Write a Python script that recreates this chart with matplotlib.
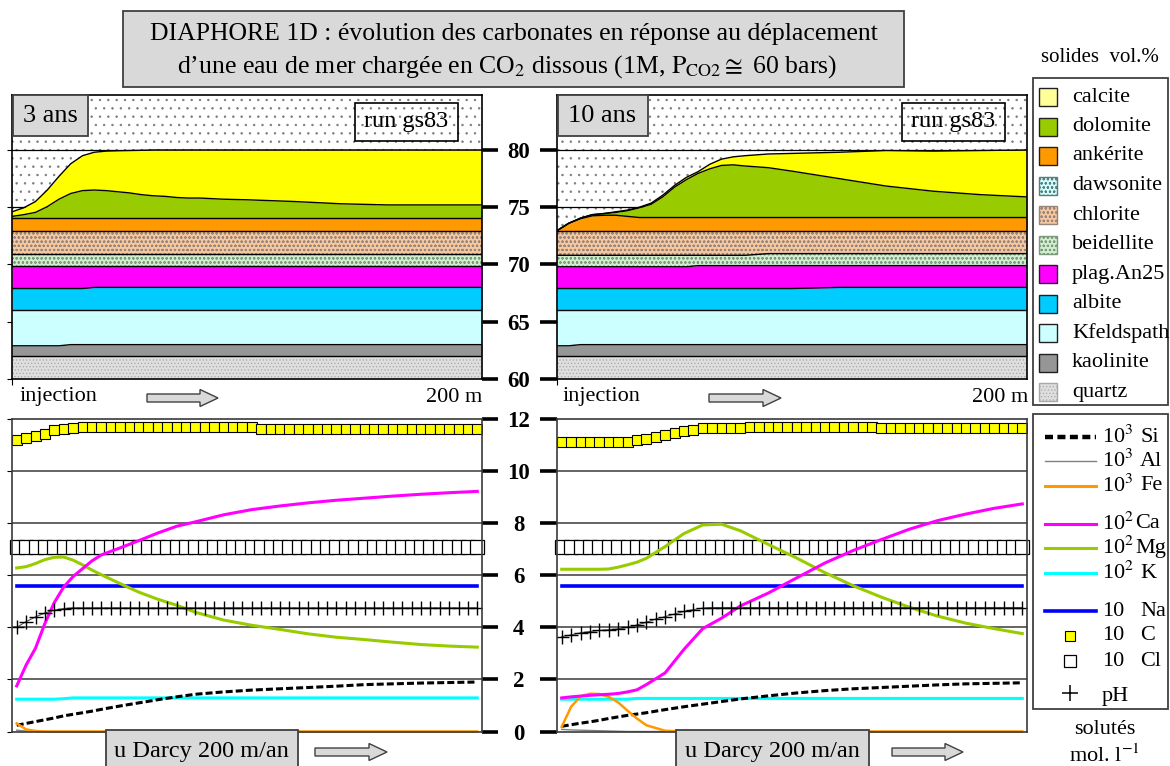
import matplotlib.pyplot as plt
import numpy as np
from matplotlib.patches import Rectangle, FancyArrow
from matplotlib.lines import Line2D
from matplotlib.ticker import FixedLocator

plt.rcParams['font.family'] = ['Liberation Serif', 'DejaVu Serif']
plt.rcParams['mathtext.fontset'] = 'stix'
plt.rcParams['hatch.linewidth'] = 0.5

W, H = 1170, 766

# ---------------- solides (vol.%) ----------------
x_sol = [0, 5, 10, 15, 20, 25, 30, 35, 40, 45, 50, 55, 60, 65, 70, 75, 80, 90, 100, 120, 140, 160, 180, 200]

mineraux = ["quartz", "kaolinite", "Kfeldspath", "albite", "plag.An25", "beidellite",
            "chlorite", "ankérite", "dolomite", "calcite"]

# 3 ans
quartz_3 = [62.0, 62.0, 62.0, 62.0, 62.0, 62.0, 62.0, 62.0, 62.0, 62.0, 62.0, 62.0,
            62.0, 62.0, 62.0, 62.0, 62.0, 62.0, 62.0, 62.0, 62.0, 62.0, 62.0, 62.0]
kaolinite_3 = [0.9, 0.9, 0.9, 0.9, 0.9, 1.0, 1.0, 1.0, 1.0, 1.0, 1.0, 1.0,
               1.0, 1.0, 1.0, 1.0, 1.0, 1.0, 1.0, 1.0, 1.0, 1.0, 1.0, 1.0]
kfeld_3 = [3.1, 3.1, 3.1, 3.1, 3.1, 3.0, 3.0, 3.0, 3.0, 3.0, 3.0, 3.0,
           3.0, 3.0, 3.0, 3.0, 3.0, 3.0, 3.0, 3.0, 3.0, 3.0, 3.0, 3.0]
albite_3 = [1.9, 1.9, 1.9, 1.9, 1.9, 1.9, 1.9, 2.0, 2.0, 2.0, 2.0, 2.0,
            2.0, 2.0, 2.0, 2.0, 2.0, 2.0, 2.0, 2.0, 2.0, 2.0, 2.0, 2.0]
plag_3 = [2.0, 2.0, 2.0, 2.0, 2.0, 2.0, 2.0, 1.9, 1.9, 1.9, 1.9, 1.9,
          1.9, 1.9, 1.9, 1.9, 1.9, 1.9, 1.9, 1.9, 1.9, 1.9, 1.9, 1.9]
beidellite_3 = [1.0, 1.0, 1.0, 1.0, 1.0, 1.0, 1.0, 1.0, 1.0, 1.0, 1.0, 1.0,
                1.0, 1.0, 1.0, 1.0, 1.0, 1.0, 1.0, 1.0, 1.0, 1.0, 1.0, 1.0]
chlorite_3 = [2.05, 2.05, 2.05, 2.05, 2.05, 2.05, 2.05, 2.05, 2.05, 2.05, 2.05, 2.05,
              2.05, 2.05, 2.05, 2.05, 2.05, 2.05, 2.05, 2.05, 2.05, 2.05, 2.05, 2.05]
ankerite_3 = [1.15, 1.15, 1.15, 1.15, 1.15, 1.15, 1.15, 1.15, 1.15, 1.15, 1.15, 1.15,
              1.15, 1.15, 1.15, 1.15, 1.15, 1.15, 1.15, 1.15, 1.15, 1.15, 1.15, 1.15]
dolomite_3 = [0.1, 0.25, 0.45, 0.95, 1.6, 2.1, 2.35, 2.4, 2.35, 2.25, 2.15, 2.0,
              1.9, 1.85, 1.75, 1.7, 1.7, 1.6, 1.55, 1.4, 1.2, 1.1, 1.1, 1.1]
calcite_3 = [0.4, 0.6, 0.95, 1.45, 2.0, 2.6, 3.05, 3.3, 3.45, 3.58, 3.7, 3.87,
             4.0, 4.05, 4.15, 4.2, 4.2, 4.3, 4.35, 4.5, 4.7, 4.8, 4.8, 4.8]

# 10 ans
quartz_10 = [62.0, 62.0, 62.0, 62.0, 62.0, 62.0, 62.0, 62.0, 62.0, 62.0, 62.0, 62.0,
             62.0, 62.0, 62.0, 62.0, 62.0, 62.0, 62.0, 62.0, 62.0, 62.0, 62.0, 62.0]
kaolinite_10 = [0.9, 0.9, 1.0, 1.0, 1.0, 1.0, 1.0, 1.0, 1.0, 1.0, 1.0, 1.0,
                1.0, 1.0, 1.0, 1.0, 1.0, 1.0, 1.0, 1.0, 1.0, 1.0, 1.0, 1.0]
kfeld_10 = [3.1, 3.1, 3.0, 3.0, 3.0, 3.0, 3.0, 3.0, 3.0, 3.0, 3.0, 3.0,
            3.0, 3.0, 3.0, 3.0, 3.0, 3.0, 3.0, 3.0, 3.0, 3.0, 3.0, 3.0]
albite_10 = [1.9, 1.9, 1.9, 1.9, 1.9, 1.9, 1.9, 1.9, 1.9, 1.9, 1.9, 1.9,
             1.9, 1.9, 1.9, 1.9, 1.9, 1.9, 1.9, 2.0, 2.0, 2.0, 2.0, 2.0]
plag_10 = [1.9, 1.9, 1.9, 1.9, 1.9, 1.9, 1.9, 1.9, 1.9, 1.9, 1.9, 1.9,
           2.0, 2.0, 2.0, 2.0, 2.0, 2.0, 2.0, 1.9, 1.9, 1.9, 1.9, 1.9]
beidellite_10 = [1.0, 1.0, 1.0, 1.0, 1.0, 1.0, 1.0, 1.0, 1.0, 1.0, 1.0, 1.0,
                 0.9, 0.9, 0.9, 0.9, 0.9, 1.05, 1.05, 1.05, 1.05, 1.05, 1.05, 1.05]
chlorite_10 = [2.15, 2.15, 2.15, 2.15, 2.15, 2.15, 2.15, 2.15, 2.15, 2.15, 2.15, 2.15,
               2.15, 2.15, 2.15, 2.15, 2.15, 2.0, 2.0, 2.0, 2.0, 2.0, 2.0, 2.0]
ankerite_10 = [0.0, 0.65, 1.05, 1.3, 1.35, 1.35, 1.25, 1.15, 1.15, 1.15, 1.15, 1.15,
               1.15, 1.15, 1.15, 1.15, 1.15, 1.15, 1.15, 1.15, 1.15, 1.15, 1.15, 1.15]
dolomite_10 = [0.0, 0.0, 0.05, 0.1, 0.15, 0.25, 0.5, 0.85, 1.15, 1.8, 2.65, 3.3,
               3.85, 4.25, 4.55, 4.6, 4.5, 4.35, 4.05, 3.4, 2.75, 2.3, 2.0, 1.8]
calcite_10 = [0.0, 0.0, 0.0, 0.0, 0.0, 0.05, 0.05, 0.05, 0.1, 0.15, 0.15, 0.2,
              0.15, 0.4, 0.55, 0.7, 0.9, 1.2, 1.55, 2.3, 3.1, 3.5, 3.85, 4.1]

# ---------------- solutés ----------------
x_sl = [2, 6, 10, 14, 18, 22, 26, 30, 34, 38, 46, 54, 62, 70, 78, 90, 102, 114, 126, 138, 150, 162, 174, 186, 198]
x_maille = np.arange(2, 200, 4)  # centres des 50 mailles

ca_3 = [1.75, 2.55, 3.2, 4.15, 4.95, 5.55, 5.95, 6.25, 6.55, 6.78, 7.05, 7.33, 7.62,
        7.88, 8.05, 8.32, 8.52, 8.66, 8.78, 8.88, 8.96, 9.04, 9.11, 9.17, 9.22]
mg_3 = [6.28, 6.33, 6.45, 6.6, 6.69, 6.7, 6.58, 6.4, 6.2, 6.02, 5.68, 5.35, 5.08,
        4.85, 4.58, 4.28, 4.08, 3.92, 3.75, 3.62, 3.53, 3.43, 3.34, 3.28, 3.24]
si_3 = [0.24, 0.31, 0.38, 0.45, 0.52, 0.6, 0.66, 0.72, 0.78, 0.85, 0.98, 1.1, 1.22,
        1.33, 1.43, 1.52, 1.59, 1.64, 1.69, 1.74, 1.8, 1.83, 1.86, 1.88, 1.9]
fe_3 = [0.31, 0.08, 0.02, 0.0, 0.0, 0.0, 0.0, 0.0, 0.0, 0.0, 0.0, 0.0, 0.0,
        0.0, 0.0, 0.0, 0.0, 0.0, 0.0, 0.0, 0.0, 0.0, 0.0, 0.0, 0.0]
al_3 = [0.05, 0.02, 0.0, 0.0, 0.0, 0.0, 0.0, 0.0, 0.0, 0.0, 0.0, 0.0, 0.0,
        0.0, 0.0, 0.0, 0.0, 0.0, 0.0, 0.0, 0.0, 0.0, 0.0, 0.0, 0.0]
k_3 = [1.24, 1.24, 1.24, 1.24, 1.24, 1.26, 1.29, 1.29, 1.29, 1.29, 1.29, 1.29, 1.29,
       1.29, 1.29, 1.29, 1.29, 1.29, 1.29, 1.29, 1.29, 1.29, 1.29, 1.29, 1.29]
na_3 = [5.58, 5.58, 5.58, 5.58, 5.58, 5.58, 5.58, 5.58, 5.58, 5.58, 5.58, 5.58, 5.58,
        5.58, 5.58, 5.58, 5.58, 5.58, 5.58, 5.58, 5.58, 5.58, 5.58, 5.58, 5.58]
c_3 = [11.20, 11.27, 11.36, 11.43, 11.56, 11.63, 11.65, 11.69, 11.69, 11.69,
       11.69, 11.69, 11.69, 11.69, 11.69, 11.69, 11.69, 11.69, 11.69, 11.69,
       11.69, 11.69, 11.69, 11.69, 11.69, 11.69, 11.62, 11.62, 11.62, 11.62,
       11.62, 11.62, 11.62, 11.62, 11.62, 11.62, 11.62, 11.62, 11.62, 11.62,
       11.62, 11.62, 11.62, 11.62, 11.62, 11.62, 11.62, 11.62, 11.62, 11.62]
cl_3 = [7.1, 7.1, 7.1, 7.1, 7.1, 7.1, 7.1, 7.1, 7.1, 7.1, 7.1, 7.1, 7.1, 7.1, 7.1, 7.1, 7.1,
        7.1, 7.1, 7.1, 7.1, 7.1, 7.1, 7.1, 7.1, 7.1, 7.1, 7.1, 7.1, 7.1, 7.1, 7.1, 7.1, 7.1,
        7.1, 7.1, 7.1, 7.1, 7.1, 7.1, 7.1, 7.1, 7.1, 7.1, 7.1, 7.1, 7.1, 7.1, 7.1, 7.1]
ph_3 = [4.00, 4.22, 4.40, 4.55, 4.66, 4.72, 4.75, 4.75, 4.75, 4.75,
        4.75, 4.75, 4.75, 4.75, 4.75, 4.75, 4.75, 4.75, 4.75, 4.75,
        4.75, 4.75, 4.75, 4.75, 4.75, 4.75, 4.75, 4.75, 4.75, 4.75,
        4.75, 4.75, 4.75, 4.75, 4.75, 4.75, 4.75, 4.75, 4.75, 4.75,
        4.75, 4.75, 4.75, 4.75, 4.75, 4.75, 4.75, 4.75, 4.75, 4.75]

ca_10 = [1.29, 1.33, 1.36, 1.39, 1.41, 1.43, 1.46, 1.52, 1.6, 1.8, 2.25, 3.15, 3.95,
         4.35, 4.82, 5.32, 5.9, 6.47, 6.95, 7.37, 7.77, 8.1, 8.35, 8.57, 8.74]
mg_10 = [6.23, 6.23, 6.23, 6.23, 6.23, 6.24, 6.31, 6.4, 6.5, 6.65, 7.1, 7.6, 7.93,
         7.96, 7.71, 7.18, 6.66, 6.1, 5.6, 5.16, 4.77, 4.43, 4.16, 3.95, 3.76]
si_10 = [0.2, 0.26, 0.32, 0.37, 0.43, 0.5, 0.56, 0.62, 0.67, 0.72, 0.84, 0.95, 1.05,
         1.15, 1.25, 1.37, 1.48, 1.57, 1.64, 1.69, 1.74, 1.79, 1.83, 1.85, 1.87]
fe_10 = [0.18, 0.95, 1.35, 1.45, 1.44, 1.33, 1.12, 0.8, 0.5, 0.24, 0.03, 0.0, 0.0,
         0.0, 0.0, 0.0, 0.0, 0.0, 0.0, 0.0, 0.0, 0.0, 0.0, 0.0, 0.0]
al_10 = [0.08, 0.06, 0.05, 0.04, 0.03, 0.02, 0.01, 0.0, 0.0, 0.0, 0.0, 0.0, 0.0,
         0.0, 0.0, 0.0, 0.0, 0.0, 0.0, 0.0, 0.0, 0.0, 0.0, 0.0, 0.0]
k_10 = [1.24, 1.24, 1.24, 1.24, 1.24, 1.24, 1.24, 1.24, 1.27, 1.27, 1.27, 1.27, 1.27,
        1.27, 1.27, 1.27, 1.27, 1.27, 1.27, 1.27, 1.27, 1.27, 1.27, 1.27, 1.27]
na_10 = [5.58, 5.58, 5.58, 5.58, 5.58, 5.58, 5.58, 5.58, 5.58, 5.58, 5.58, 5.58, 5.58,
         5.58, 5.58, 5.58, 5.58, 5.58, 5.58, 5.58, 5.58, 5.58, 5.58, 5.58, 5.58]
c_10 = [11.13, 11.13, 11.13, 11.13, 11.13, 11.13, 11.13, 11.13, 11.18, 11.25,
        11.32, 11.40, 11.47, 11.53, 11.58, 11.64, 11.64, 11.64, 11.64, 11.64,
        11.69, 11.69, 11.69, 11.69, 11.69, 11.69, 11.69, 11.69, 11.69, 11.69,
        11.69, 11.69, 11.69, 11.69, 11.64, 11.64, 11.64, 11.64, 11.64, 11.64,
        11.64, 11.64, 11.64, 11.64, 11.64, 11.64, 11.64, 11.64, 11.64, 11.64]
cl_10 = [7.1, 7.1, 7.1, 7.1, 7.1, 7.1, 7.1, 7.1, 7.1, 7.1, 7.1, 7.1, 7.1, 7.1, 7.1, 7.1, 7.1,
         7.1, 7.1, 7.1, 7.1, 7.1, 7.1, 7.1, 7.1, 7.1, 7.1, 7.1, 7.1, 7.1, 7.1, 7.1, 7.1, 7.1,
         7.1, 7.1, 7.1, 7.1, 7.1, 7.1, 7.1, 7.1, 7.1, 7.1, 7.1, 7.1, 7.1, 7.1, 7.1, 7.1]
ph_10 = [3.64, 3.71, 3.79, 3.84, 3.88, 3.91, 3.94, 4.00, 4.09, 4.19,
         4.32, 4.41, 4.51, 4.61, 4.68, 4.74, 4.76, 4.76, 4.76, 4.76,
         4.76, 4.76, 4.76, 4.76, 4.76, 4.76, 4.76, 4.76, 4.76, 4.76,
         4.76, 4.76, 4.76, 4.76, 4.76, 4.76, 4.76, 4.76, 4.76, 4.76,
         4.76, 4.76, 4.76, 4.76, 4.76, 4.76, 4.76, 4.76, 4.76, 4.76]

# styles des minéraux : (couleur, couleur motif, motif)
style_min = {
    "quartz": ("#DEDEDE", "#A8A8A8", "....."),
    "kaolinite": ("#969696", "#969696", None),
    "Kfeldspath": ("#CCFFFF", "#CCFFFF", None),
    "albite": ("#00CCFF", "#00CCFF", None),
    "plag.An25": ("#FF00FF", "#FF00FF", None),
    "beidellite": ("#CFEFCF", "#7E987E", "oooo"),
    "chlorite": ("#F6C8A0", "#988478", "oooo"),
    "ankérite": ("#FF9900", "#FF9900", None),
    "dolomite": ("#99CC00", "#99CC00", None),
    "calcite": ("#FFFF00", "#FFFF00", None),
    "dawsonite": ("#CCFFFF", "#5E7A7A", "oooo"),
}

fig = plt.figure(figsize=(W / 100, H / 100), dpi=100)


def rect_px(x0, y0, x1, y1):
    return [x0 / W, 1 - y1 / H, (x1 - x0) / W, (y1 - y0) / H]


TOP_Y = 84.8


def panneau_solides(ax, vols):
    bas = np.zeros(len(x_sol))
    for nom, v in zip(mineraux, vols):
        fc, hc, hatch = style_min[nom]
        haut = bas + np.array(v)
        ax.fill_between(x_sol, bas, haut, facecolor=fc, edgecolor=hc, hatch=hatch,
                        linewidth=0, zorder=2)
        ax.plot(x_sol, haut, color="k", lw=1.0, zorder=3)
        bas = haut
    ax.fill_between(x_sol, bas, TOP_Y, facecolor="white", edgecolor="#7A7A7A",
                    hatch="..", linewidth=0, zorder=1)
    for yv in [65, 70, 75, 80]:
        ax.axhline(yv, color="k", lw=0.9, zorder=1.5)
    ax.set_xlim(0, 200)
    ax.set_ylim(60, TOP_Y)
    ax.set_xticks([0])
    ax.set_xticklabels([])
    ax.tick_params(axis="x", length=4, width=0.8, direction="out")
    for s in ax.spines.values():
        s.set_linewidth(1.2)
        s.set_zorder(5)


def panneau_solutes(ax, d):
    for yv in [2, 4, 6, 8, 10]:
        ax.axhline(yv, color="#3A3A3A", lw=1.1, zorder=1)
    ax.plot(x_maille, d["cl"], ls="none", marker="s", ms=10.5, mfc="white",
            mec="black", mew=0.9, zorder=2, clip_on=False)
    ax.plot(x_sl, d["na"], color="#0000FF", lw=2.6, zorder=3)
    ax.plot(x_sl, d["k"], color="#00FFFF", lw=2.2, zorder=3)
    ax.plot(x_sl, d["al"], color="#808080", lw=1.0, zorder=3)
    ax.plot(x_sl, d["si"], color="black", lw=2.2, dashes=(2.3, 1.0), zorder=3)
    ax.plot(x_sl, d["fe"], color="#FF9900", lw=1.8, zorder=3, clip_on=False)
    ax.plot(x_sl, d["mg"], color="#99CC00", lw=2.2, zorder=3)
    ax.plot(x_sl, d["ca"], color="#FF00FF", lw=2.2, zorder=3)
    ax.plot(x_maille, d["ph"], color="#555555", lw=0.8, marker="+", ms=10, mec="black",
            mew=1.0, zorder=4)
    ax.plot(x_maille, d["c"], ls="none", marker="s", ms=7.2, mfc="#FFFF00",
            mec="black", mew=0.8, zorder=4)
    ax.set_xlim(0, 200)
    ax.set_ylim(0, 12)
    ax.set_xticks([])
    for s in ax.spines.values():
        s.set_linewidth(1.2)
        s.set_color("#3A3A3A")
        s.set_zorder(5)


def ticks_gauche_droite(ax, yt, labels):
    ax.yaxis.remove_overlapping_locs = False
    ax.yaxis.set_major_locator(FixedLocator(yt))
    ax.yaxis.set_minor_locator(FixedLocator(yt))
    ax.tick_params(axis="y", which="major", left=False, right=True, labelleft=False,
                   labelright=True, length=11.5, width=2.6, direction="out", pad=15,
                   labelsize=16.5)
    ax.tick_params(axis="y", which="minor", left=True, right=False, length=3.5,
                   width=0.8, direction="out")
    ax.set_yticklabels(labels)
    for lab in ax.get_yticklabels():
        lab.set_fontweight("bold")
        lab.set_horizontalalignment("center")


def ticks_epais_gauche(ax, yt):
    ax.set_yticks(yt)
    ax.tick_params(axis="y", left=True, right=False, labelleft=False, length=12,
                   width=2.6, direction="out")


ax1 = fig.add_axes(rect_px(12, 95, 482, 379))
panneau_solides(ax1, [quartz_3, kaolinite_3, kfeld_3, albite_3, plag_3, beidellite_3,
                      chlorite_3, ankerite_3, dolomite_3, calcite_3])
ticks_gauche_droite(ax1, [60, 65, 70, 75, 80], ["60", "65", "70", "75", "80"])

ax2 = fig.add_axes(rect_px(557, 95, 1027, 379))
panneau_solides(ax2, [quartz_10, kaolinite_10, kfeld_10, albite_10, plag_10, beidellite_10,
                      chlorite_10, ankerite_10, dolomite_10, calcite_10])
ticks_epais_gauche(ax2, [60, 65, 70, 75, 80])

ax3 = fig.add_axes(rect_px(12, 419, 482, 731.5))
panneau_solutes(ax3, dict(ca=ca_3, mg=mg_3, si=si_3, fe=fe_3, al=al_3, k=k_3, na=na_3,
                          c=c_3, cl=cl_3, ph=ph_3))
ticks_gauche_droite(ax3, [0, 2, 4, 6, 8, 10, 12], ["0", "2", "4", "6", "8", "10", "12"])

ax4 = fig.add_axes(rect_px(557, 419, 1027, 731.5))
panneau_solutes(ax4, dict(ca=ca_10, mg=mg_10, si=si_10, fe=fe_10, al=al_10, k=k_10,
                          na=na_10, c=c_10, cl=cl_10, ph=ph_10))
ticks_epais_gauche(ax4, [0, 2, 4, 6, 8, 10, 12])

# ---------------- habillage (coordonnées pixel) ----------------
ov = fig.add_axes([0, 0, 1, 1], zorder=10)
ov.set_xlim(0, W)
ov.set_ylim(H, 0)
ov.axis("off")

GRIS = "#D9D9D9"
FS = 16

# titre
ov.add_patch(Rectangle((123, 11), 781, 76, facecolor=GRIS, edgecolor="#404040", lw=1.3))
ov.text(514, 34, "DIAPHORE 1D : évolution des carbonates en réponse au déplacement",
        ha="center", va="center", fontsize=18.5)
ov.text(507, 67, "d’une eau de mer chargée en CO$_2$ dissous (1M, "
        "$\\mathrm{P}_{\\mathrm{CO2}}\\cong$ 60 bars)", ha="center", va="center", fontsize=18.5)

for x0, lab in [(12.5, "3 ans"), (557.5, "10 ans")]:
    wb = 75 if lab == "3 ans" else 90
    ov.add_patch(Rectangle((x0, 95), wb, 41, facecolor=GRIS, edgecolor="#404040", lw=1.3))
    ov.text(x0 + wb / 2, 116, lab, ha="center", va="center", fontsize=19)

for x0 in [355, 902]:
    ov.add_patch(Rectangle((x0, 103), 103, 38, facecolor="none", edgecolor="black", lw=1.2))
    ov.text(x0 + 51.5, 122, "run gs83", ha="center", va="center", fontsize=17.5)


def fleche(x0, x1, y):
    ov.add_patch(FancyArrow(x0, y, x1 - x0, 0, width=8, head_width=17, head_length=18,
                            length_includes_head=True, facecolor=GRIS,
                            edgecolor="#404040", lw=1.0))


for xl0, xr in [(20, 482), (563, 1028)]:
    ov.text(xl0, 397, "injection", ha="left", va="center", fontsize=FS)
    ov.text(xr, 397, "200 m", ha="right", va="center", fontsize=FS)
fleche(147, 218, 398)
fleche(709, 781, 398)

for x0, x1, a0, a1 in [(105.5, 297.5, 315, 387), (675.5, 868.5, 892, 963)]:
    ov.add_patch(Rectangle((x0, 729.5), x1 - x0, 45, facecolor=GRIS, edgecolor="#404040",
                           lw=1.3, clip_on=False))
    ov.text((x0 + x1) / 2, 751, "u Darcy 200 m/an", ha="center", va="center", fontsize=17.5)
    fleche(a0, a1, 752)

# légende solides
ov.text(1100, 57, "solides  vol.%", ha="center", va="center", fontsize=FS - 1)
ov.add_patch(Rectangle((1033, 78), 135, 327, facecolor="white", edgecolor="#404040", lw=1.3))
ordre_leg = ["calcite", "dolomite", "ankérite", "dawsonite", "chlorite", "beidellite",
             "plag.An25", "albite", "Kfeldspath", "kaolinite", "quartz"]
coul_leg = {"calcite": "#FFFF99"}
for i, nom in enumerate(ordre_leg):
    yc = 97 + 29.5 * i
    fc, hc, hatch = style_min[nom]
    fc = coul_leg.get(nom, fc)
    ec = hc if hatch else "#202020"
    ov.add_patch(Rectangle((1039, yc - 9), 18, 18, facecolor=fc, edgecolor=ec,
                           hatch=hatch, lw=1.0))
    ov.text(1072, yc, nom, ha="left", va="center", fontsize=FS)

# légende solutés
ov.add_patch(Rectangle((1033, 414), 135, 295, facecolor="white", edgecolor="#404040", lw=1.3))
leg_sol = [
    (437, "10$^3$", "Si", dict(color="black", lw=3.2, dashes=(1.8, 1.0))),
    (461, "10$^3$", "Al", dict(color="#808080", lw=1.0)),
    (486, "10$^3$", "Fe", dict(color="#FF9900", lw=2.2)),
    (524, "10$^2$", "Ca", dict(color="#FF00FF", lw=2.2)),
    (548, "10$^2$", "Mg", dict(color="#99CC00", lw=2.2)),
    (573, "10$^2$", "K", dict(color="#00FFFF", lw=2.2)),
    (611, "10", "Na", dict(color="#0000FF", lw=2.6)),
]
for yc, pre, el, st in leg_sol:
    ov.add_line(Line2D([1045, 1096], [yc, yc], **st))
    ov.text(1102, yc, pre, ha="left", va="center", fontsize=FS)
    ov.text(1135 if el in ("Ca", "Mg") else 1140, yc, el, ha="left", va="center", fontsize=FS)
ov.add_line(Line2D([1070], [636], ls="none", marker="s", ms=7.2, mfc="#FFFF00", mec="black",
                   mew=0.8))
ov.text(1102, 636, "10", ha="left", va="center", fontsize=FS)
ov.text(1140, 636, "C", ha="left", va="center", fontsize=FS)
ov.add_line(Line2D([1070], [661], ls="none", marker="s", ms=8.5, mfc="white", mec="black",
                   mew=0.9))
ov.text(1102, 661, "10", ha="left", va="center", fontsize=FS)
ov.text(1140, 661, "Cl", ha="left", va="center", fontsize=FS)
ov.add_line(Line2D([1070], [693], ls="none", marker="+", ms=11, mec="black", mew=1.1))
ov.text(1102, 696, "pH", ha="left", va="center", fontsize=FS)

ov.text(1105, 729, "solutés", ha="center", va="center", fontsize=FS)
ov.text(1105, 756, "mol. l$^{-1}$", ha="center", va="center", fontsize=FS)

fig.savefig("out.png", dpi=100)
